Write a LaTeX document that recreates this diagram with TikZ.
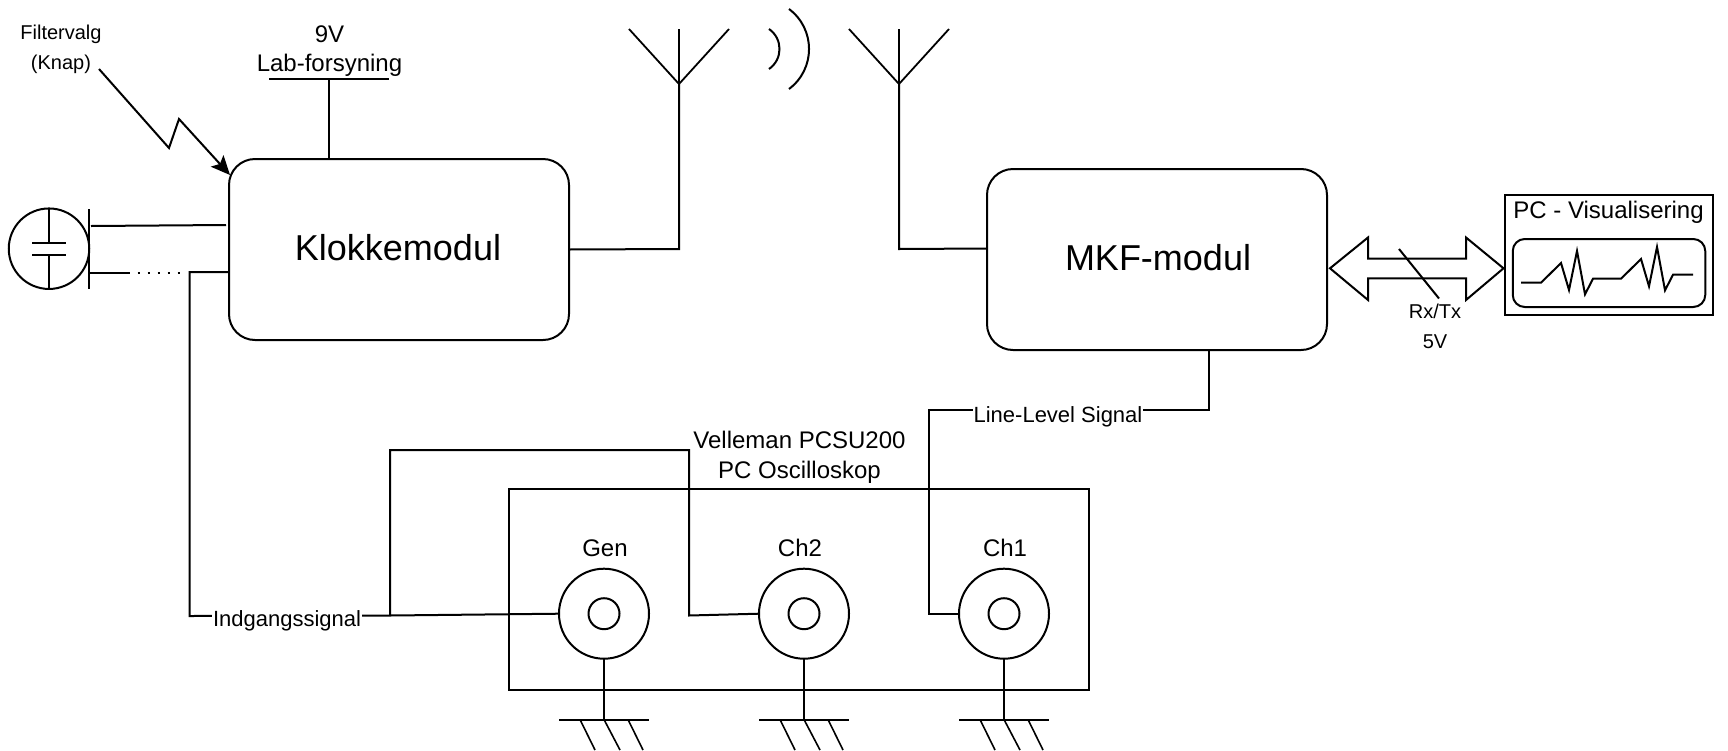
\documentclass[tikz,border=0pt]{standalone}
\usepackage{fontspec}
\setmainfont{Liberation Sans}
\usetikzlibrary{arrows.meta,shapes.geometric}
\tikzset{
  x=1pt,y=-1pt,
  wire/.style={line width=2pt,line cap=butt,line join=miter},
  module/.style={draw,line width=2pt,rounded corners=26pt,minimum width=340pt,minimum height=181pt,inner sep=0pt,outer sep=0pt},
  bigtext/.style={inner sep=0pt,outer sep=0pt,font=\fontsize{36}{40}\selectfont},
  jack/.style={draw,circle,line width=2pt,minimum size=90pt,inner sep=0pt,outer sep=0pt},
  pin/.style={draw,circle,line width=2pt,minimum size=31pt,inner sep=0pt,outer sep=0pt},
  frame/.style={draw,line width=2pt,inner sep=0pt,outer sep=0pt},
  midtext/.style={inner sep=0pt,outer sep=0pt,align=center,font=\fontsize{24}{30}\selectfont},
  smalltext/.style={inner sep=0pt,outer sep=0pt,align=center,font=\fontsize{20}{30}\selectfont},
  linelabel/.style={fill=white,inner sep=1pt,outer sep=0pt,font=\fontsize{22}{26}\selectfont},
}
\begin{document}
\begin{tikzpicture}
\useasboundingbox (0,0) rectangle (1728,750);
% modules
\node[module] (klokke) at (399,249.5) {};
\node[module] (mkf) at (1157,259.5) {};
\node[bigtext] (tk) at (398,248) {Klokkemodul};
\node[bigtext] (tm) at (1158,258) {MKF-modul};
% oscilloscope
\node[frame,minimum width=580pt,minimum height=200.5pt] (scope) at (799,589.3) {};
\node[jack] (gen) at (604,613.7) {};
\node[jack] (chb) at (804,613.7) {};
\node[jack] (cha) at (1004,613.7) {};
\node[pin] at (gen.center) {};
\node[pin] at (chb.center) {};
\node[pin] at (cha.center) {};
\node[midtext] (tgen) at (605,548) {Gen};
\node[midtext] (tchb) at (800,548) {Ch2};
\node[midtext] (tcha) at (1005,548) {Ch1};
\node[midtext] (velleman) at (799.5,457.5) {Velleman PCSU200\\PC Oscilloskop};
% grounds
\foreach \j/\cx in {gen/604,chb/804,cha/1004}{
  \coordinate (g\j) at (\cx,719.5);
  \draw[wire] (\j.south) -- (g\j);
  \draw[wire] (\cx-45,719.5) -- (\cx+45,719.5);
  \draw[wire,line width=1.6pt] (\cx-24,719.5) -- (\cx-9,750);
  \draw[wire,line width=1.6pt] (\cx,719.5) -- (\cx+16,750);
  \draw[wire,line width=1.6pt] (\cx+24,719.5) -- (\cx+39,750);
}
% supply
\node[midtext] (nine) at (329.5,34) {9V};
\node[midtext] (lab) at (329.5,65) {Lab-forsyning};
\coordinate (supL) at (269,79);
\coordinate (supM) at (329,79);
\coordinate (supR) at (389,79);
\draw[wire] (supL) -- (supR);
\draw[wire] (supM) -- (klokke.north -| supM);
% filter selection
\node[smalltext] (filt) at (61,34) {Filtervalg};
\node[smalltext] (knap) at (61,64) {(Knap)};
\coordinate (zs) at (99,69);
\coordinate (za) at (169,148);
\coordinate (zb) at (179,119);
\coordinate (zt) at (230,175);
\draw[wire,-{Stealth[length=19pt,width=17pt,inset=4pt]}] (zs) -- (za) -- (zb) -- (zt);
% capacitor input
\node[draw,circle,line width=2pt,minimum size=80.5pt,inner sep=0pt,outer sep=0pt] (cap) at (49,248.7) {};
\coordinate (plA) at (49,243);
\coordinate (plB) at (49,255);
\draw[wire] (cap.north) -- (plA);
\draw[wire] (plB) -- (cap.south);
\draw[wire] (32,243) -- (66,243);
\draw[wire] (32,255) -- (66,255);
\draw[wire] (89,209) -- (89,288.5);
\coordinate (ct) at (91,226);
\coordinate (kt) at (226,225);
\draw[wire] (ct) -- (kt);
\coordinate (cb) at (89,272.7);
\coordinate (cc) at (130,272.7);
\coordinate (dd) at (137.5,272.7);
\coordinate (de) at (182,272.7);
\draw[wire] (cb) -- (cc);
\draw[line width=2pt,dash pattern=on 2pt off 8pt] (dd) -- (de);
% input signal
\coordinate (ka) at (229,272);
\coordinate (kb) at (189.5,272);
\coordinate (kc) at (189.5,616);
\coordinate (kd) at (390,615.5);
\draw[wire] (ka) -- (kb) -- (kc) -- (kd) -- (gen.west);
\coordinate (ca) at (390,450);
\coordinate (cb2) at (689,450);
\coordinate (cd) at (689,615.5);
\draw[wire] (kd) -- (ca) -- (cb2) -- (cd) -- (chb.west);
\node[linelabel] (ind) at (287,621) {Indgangssignal};
% line level
\coordinate (mb) at (1209,410);
\coordinate (mc) at (929,410);
\coordinate (md) at (929,613.7);
\draw[wire] (mkf.south -| mb) -- (mb) -- (mc) -- (md) -- (cha.west);
\node[linelabel] (lls) at (1058,416.5) {Line-Level Signal};
% antennas
\coordinate (aA) at (679,84);
\coordinate (aAf) at (679,249);
\draw[wire] (klokke.east) -- (aAf) -- (aA);
\draw[wire] (679,29) -- (aA);
\draw[wire,line width=1.8pt] (629,29) -- (aA) -- (729,29);
\coordinate (aB) at (899,84);
\coordinate (aBf) at (899,249);
\draw[wire] (mkf.west |- 0,248.5) -- (aBf) -- (aB);
\draw[wire] (899,29) -- (aB);
\draw[wire,line width=1.8pt] (849,29) -- (aB) -- (949,29);
% waves
\draw[wire] (769,29) .. controls (783,38.7) and (783,59.3) .. (769,69);
\draw[wire] (789,9) .. controls (815.7,29) and (815.7,69) .. (789,89);
% PC
\node[frame,minimum width=208pt,minimum height=120pt] (pc) at (1609,255) {};
\node[midtext] (pct) at (1608.5,212.5) {PC - Visualisering};
\node[draw,line width=2pt,rounded corners=12pt,minimum width=192.5pt,minimum height=68pt,inner sep=0pt,outer sep=0pt] (screen) at (1609,273) {};
\draw[wire,line join=miter] (1521,282.7) -- (1541,282.7) -- (1561,263) -- (1569,290) -- (1577,251) -- (1585,294.3) -- (1593,278.7) -- (1621,278.7) -- (1641,259) -- (1649,286.3) -- (1657,247) -- (1665,290.3) -- (1673,274.7) -- (1693,274.7);
% bus
\coordinate (bl) at (1330,268.3);
\coordinate (br) at (1503.5,268.3);
\draw[wire,fill=white] (bl) -- (1368,237.5) -- (1368,258.7) -- (1466,258.7) -- (1466,237.5) -- (br) -- (1466,300) -- (1466,278.3) -- (1368,278.3) -- (1368,300) -- cycle;
\coordinate (sa) at (1399,249);
\coordinate (sb) at (1439,298.5);
\draw[wire] (sa) -- (sb);
\node[smalltext] (rx) at (1435,311.5) {Rx/Tx};
\node[smalltext] (fv) at (1435,342) {5V};
\end{tikzpicture}
\end{document}
